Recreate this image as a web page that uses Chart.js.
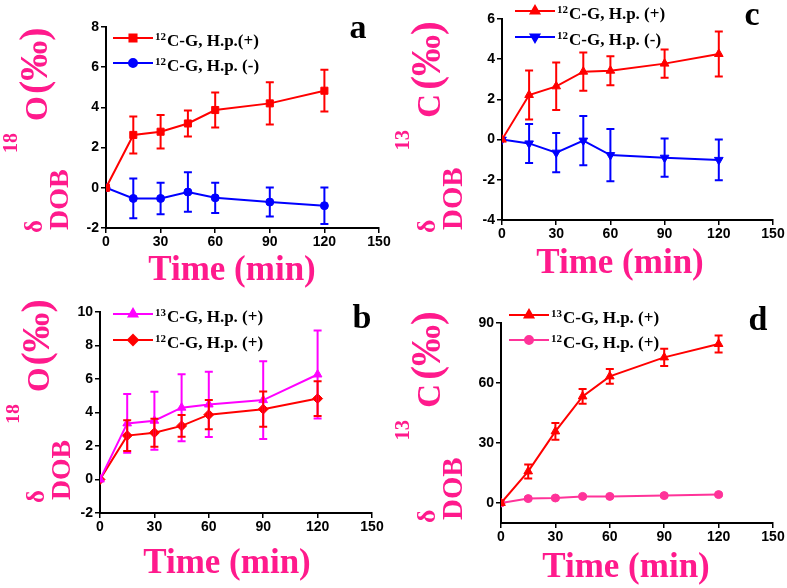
<!DOCTYPE html>
<html>
<head>
<meta charset="utf-8">
<script src="https://cdn.jsdelivr.net/npm/chart.js@4.4.1/dist/chart.umd.min.js"></script>
<style>
  body { margin: 0; background: #fff; width: 787px; height: 588px; position: relative; overflow: hidden; }
  .panel { position: absolute; }
</style>
</head>
<body>
<div class="panel" style="left:0;top:0;width:393px;height:290px"><canvas id="chartA"></canvas></div>
<div class="panel" style="left:393px;top:0;width:394px;height:290px"><canvas id="chartC"></canvas></div>
<div class="panel" style="left:0;top:290px;width:393px;height:298px"><canvas id="chartB"></canvas></div>
<div class="panel" style="left:393px;top:290px;width:394px;height:298px"><canvas id="chartD"></canvas></div>
<script>
// sampling times (min)
const times = [0, 15, 30, 45, 60, 90, 120];
const xTicks = [0, 30, 60, 90, 120, 150];

// panel a: delta 18O, 12C-G
const aPlus = [0, 2.63, 2.79, 3.2, 3.87, 4.2, 4.83];
const aPlusErr = [0, 0.92, 0.83, 0.65, 0.87, 1.05, 1.04];
const aMinus = [0, -0.53, -0.53, -0.21, -0.5, -0.71, -0.89];
const aMinusErr = [0, 0.99, 0.78, 0.98, 0.75, 0.72, 0.91];
const aYTicks = [-2, 0, 2, 4, 6, 8];

// panel c: delta 13C, 12C-G
const cPlus = [0, 2.22, 2.65, 3.38, 3.43, 3.78, 4.26];
const cPlusErr = [0, 1.22, 1.18, 0.95, 0.72, 0.7, 1.12];
const cMinus = [0, -0.19, -0.65, -0.05, -0.77, -0.9, -1.01];
const cMinusErr = [0, 0.97, 0.98, 1.22, 1.3, 0.95, 1.01];
const cYTicks = [-4, -2, 0, 2, 4, 6];

// panel b: delta 18O, 13C-G vs 12C-G
const b13 = [0, 3.35, 3.51, 4.29, 4.48, 4.74, 6.27];
const b13Err = [0, 1.76, 1.73, 2.0, 1.95, 2.32, 2.63];
const b12 = [0, 2.62, 2.79, 3.2, 3.87, 4.2, 4.83];
const b12Err = [0, 0.92, 0.83, 0.65, 0.87, 1.05, 1.04];
const bYTicks = [-2, 0, 2, 4, 6, 8, 10];

// panel d: delta 13C, 13C-G vs 12C-G
const d13 = [0, 15.8, 35.8, 53.3, 63.3, 72.8, 79.5];
const d13Err = [0, 3.5, 4.2, 3.7, 3.7, 4.3, 4.2];
const d12 = [0, 2.2, 2.5, 3.3, 3.3, 3.7, 4.2];
const d12Err = [0, 0.6, 0.6, 0.6, 0.6, 0.6, 0.6];
const dYTicks = [0, 30, 60, 90];

const PINK = '#ff1a8c';
const SERIF = '"Liberation Serif", "Times New Roman", serif';
const SANS = '"Liberation Sans", Arial, sans-serif';

function drawYTitle(ctx, t) {
    ctx.save();
    ctx.translate(t.x, t.y);
    ctx.rotate(-Math.PI / 2);
    ctx.scale(t.k, t.k);
    ctx.fillStyle = PINK;
    ctx.textAlign = 'left';
    ctx.textBaseline = 'alphabetic';
    const parts = [
        ['δ', 25, 0, -5],
        ['DOB', 28, 3, 21],
        [t.iso, 20, 80, -30],
        [t.elem, 32, 112, 0],
        ['(‰)', 40, 139, 0],
    ];
    parts.forEach(([txt, size, u, v]) => {
        ctx.font = `bold ${size}px ${SERIF}`;
        ctx.fillText(txt, u, v);
    });
    ctx.restore();
}

const deco = {
    id: 'deco',
    afterDatasetsDraw(chart, args, opts) {
        const ctx = chart.ctx;
        const xs = chart.scales.x, ys = chart.scales.y;

        // error bars
        chart.data.datasets.forEach((ds) => {
            ctx.save();
            ctx.strokeStyle = ds.borderColor;
            ctx.lineWidth = 2;
            ds.data.forEach((p, i) => {
                const e = ds.errors[i];
                if (!e) return;
                const px = xs.getPixelForValue(p.x);
                const top = ys.getPixelForValue(p.y + e);
                const bot = ys.getPixelForValue(p.y - e);
                ctx.beginPath();
                ctx.moveTo(px, top); ctx.lineTo(px, bot);
                ctx.moveTo(px - 4, top); ctx.lineTo(px + 4, top);
                ctx.moveTo(px - 4, bot); ctx.lineTo(px + 4, bot);
                ctx.stroke();
            });
            ctx.restore();
        });
    },
    afterDraw(chart, args, opts) {
        const ctx = chart.ctx;
        // legend
        const lg = opts.legend;
        chart.data.datasets.forEach((ds, i) => {
            const y = lg.y + i * lg.dy;
            ctx.save();
            ctx.strokeStyle = ds.borderColor;
            ctx.fillStyle = ds.borderColor;
            ctx.lineWidth = 2;
            ctx.beginPath();
            ctx.moveTo(lg.x, y); ctx.lineTo(lg.x + 40, y);
            ctx.stroke();
            Chart.helpers.drawPoint(ctx, {
                pointStyle: ds.pointStyle, radius: ds.pointRadius,
                rotation: ds.pointRotation || 0, borderWidth: 1
            }, lg.x + 20, y);
            ctx.fillStyle = '#000';
            ctx.textAlign = 'left';
            ctx.textBaseline = 'alphabetic';
            ctx.font = `bold 11px ${SERIF}`;
            ctx.fillText(ds.sup, lg.x + 42, y + 2);
            const w = ctx.measureText(ds.sup).width;
            ctx.font = `bold 17px ${SERIF}`;
            ctx.fillText(ds.label, lg.x + 43 + w, y + 8);
            ctx.restore();
        });

        // panel letter
        ctx.save();
        ctx.fillStyle = '#000';
        ctx.textAlign = 'center';
        ctx.textBaseline = 'alphabetic';
        ctx.font = `bold 34px ${SERIF}`;
        ctx.fillText(opts.letter.text, opts.letter.x, opts.letter.y);

        // x title
        ctx.fillStyle = PINK;
        ctx.font = `bold 35px ${SERIF}`;
        ctx.fillText('Time (min)', opts.xTitle.x, opts.xTitle.y);
        ctx.restore();

        drawYTitle(ctx, opts.yTitle);
    }
};

function makeChart(id, cfg) {
    return new Chart(document.getElementById(id), {
        type: 'line',
        data: {
            datasets: cfg.series.map((s) => ({
                label: s.label,
                sup: s.sup,
                data: times.map((t, i) => ({ x: t, y: s.values[i] })),
                errors: s.errors,
                borderColor: s.color,
                backgroundColor: s.color,
                borderWidth: 2,
                pointStyle: s.marker,
                pointRadius: s.radius,
                pointRotation: s.rotation || 0,
                pointBorderWidth: 1,
                tension: 0,
            })),
        },
        options: {
            responsive: true,
            maintainAspectRatio: false,
            animation: false,
            layout: { padding: { left: 0, top: cfg.area.top, right: cfg.w - cfg.area.right, bottom: 0 } },
            scales: {
                x: {
                    type: 'linear',
                    min: 0,
                    max: 150,
                    afterBuildTicks: (s) => { s.ticks = xTicks.map((v) => ({ value: v })); },
                    afterFit: (s) => { s.height = cfg.h - cfg.area.bottom; },
                    ticks: { color: '#000', font: { family: SANS, weight: 'bold', size: 14 }, padding: 1, maxRotation: 0 },
                    grid: { drawOnChartArea: false, drawTicks: true, tickLength: 5, color: '#000', lineWidth: 1.5 },
                    border: { display: true, color: '#000', width: 2 },
                },
                y: {
                    min: cfg.yTicks[0] + (cfg.yExtra || 0),
                    max: cfg.yTicks[cfg.yTicks.length - 1],
                    afterBuildTicks: (s) => { s.ticks = cfg.yTicks.map((v) => ({ value: v })); },
                    afterFit: (s) => { s.width = cfg.area.left; },
                    ticks: { color: '#000', font: { family: SANS, weight: 'bold', size: 14 }, padding: 2 },
                    grid: { drawOnChartArea: false, drawTicks: true, tickLength: 5, color: '#000', lineWidth: 1.5 },
                    border: { display: true, color: '#000', width: 2 },
                },
            },
            plugins: {
                legend: { display: false },
                tooltip: { enabled: false },
                deco: cfg.deco,
            },
        },
        plugins: [deco],
    });
}

makeChart('chartA', {
    w: 393, h: 290,
    area: { left: 106, top: 27, right: 379, bottom: 228 },
    yTicks: aYTicks,
    series: [
        { label: 'C-G, H.p.(+)', sup: '12', values: aPlus, errors: aPlusErr, color: '#ff0000', marker: 'rect', radius: 5 },
        { label: 'C-G, H.p. (-)', sup: '12', values: aMinus, errors: aMinusErr, color: '#0000ff', marker: 'circle', radius: 4 },
    ],
    deco: {
        legend: { x: 113, y: 38, dy: 25 },
        letter: { text: 'a', x: 358, y: 38 },
        xTitle: { x: 232, y: 280 },
        yTitle: { x: 47, y: 233, k: 1, iso: '18', elem: 'O' },
    },
});

makeChart('chartC', {
    w: 394, h: 290,
    area: { left: 109, top: 19, right: 380, bottom: 220 },
    yTicks: cYTicks,
    series: [
        { label: 'C-G, H.p. (+)', sup: '12', values: cPlus, errors: cPlusErr, color: '#ff0000', marker: 'triangle', radius: 5 },
        { label: 'C-G, H.p. (-)', sup: '12', values: cMinus, errors: cMinusErr, color: '#0000ff', marker: 'triangle', radius: 5, rotation: 180 },
    ],
    deco: {
        legend: { x: 122, y: 11, dy: 26 },
        letter: { text: 'c', x: 359, y: 25 },
        xTitle: { x: 227, y: 273 },
        yTitle: { x: 47, y: 233, k: 1.03, iso: '13', elem: 'C' },
    },
});

makeChart('chartB', {
    w: 393, h: 298,
    area: { left: 100, top: 22, right: 372, bottom: 223 },
    yTicks: bYTicks,
    series: [
        { label: 'C-G, H.p. (+)', sup: '13', values: b13, errors: b13Err, color: '#ff00ff', marker: 'triangle', radius: 5 },
        { label: 'C-G, H.p. (+)', sup: '12', values: b12, errors: b12Err, color: '#ff0000', marker: 'rectRot', radius: 5 },
    ],
    deco: {
        legend: { x: 113, y: 24, dy: 26 },
        letter: { text: 'b', x: 362, y: 38 },
        xTitle: { x: 227, y: 283 },
        yTitle: { x: 49, y: 213, k: 0.99, iso: '18', elem: 'O' },
    },
});

makeChart('chartD', {
    w: 394, h: 298,
    area: { left: 108, top: 33, right: 380, bottom: 233 },
    yTicks: dYTicks,
    yExtra: -10,
    series: [
        { label: 'C-G, H.p. (+)', sup: '13', values: d13, errors: d13Err, color: '#ff0000', marker: 'triangle', radius: 5 },
        { label: 'C-G, H.p. (+)', sup: '12', values: d12, errors: d12Err, color: '#ff3399', marker: 'circle', radius: 4 },
    ],
    deco: {
        legend: { x: 116, y: 25, dy: 25 },
        letter: { text: 'd', x: 365, y: 40 },
        xTitle: { x: 233, y: 287 },
        yTitle: { x: 47, y: 233, k: 1.03, iso: '13', elem: 'C' },
    },
});
</script>
</body>
</html>
